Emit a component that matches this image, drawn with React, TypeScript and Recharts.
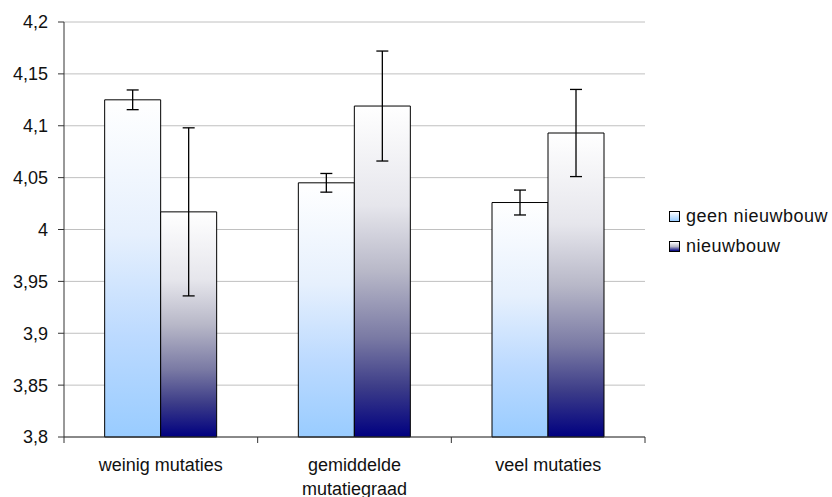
import React from 'react';
import { BarChart, Bar, XAxis, YAxis, CartesianGrid, ErrorBar, Text } from 'recharts';

const categories = ['weinig mutaties', 'gemiddelde mutatiegraad', 'veel mutaties'];
const seriesNames = ['geen nieuwbouw', 'nieuwbouw'];
const geenNieuwbouw = [4.125, 4.045, 4.026];
const geenNieuwbouwErr = [0.0095, 0.009, 0.012];
const nieuwbouw = [4.017, 4.119, 4.093];
const nieuwbouwErr = [0.081, 0.053, 0.042];
const yTicks = [3.8, 3.85, 3.9, 3.95, 4, 4.05, 4.1, 4.15, 4.2];

const W = 832;
const H = 497;
const MARGIN = { top: 22, right: 187, bottom: 0, left: 0 };
const Y_AXIS_W = 64;
const BAND = (W - MARGIN.right - MARGIN.left - Y_AXIS_W) / categories.length;
const FONT = 'Arial, "Liberation Sans", sans-serif';

const data = categories.map((name, i) => ({
    name,
    geen: geenNieuwbouw[i],
    geenErr: geenNieuwbouwErr[i],
    nieuw: nieuwbouw[i],
    nieuwErr: nieuwbouwErr[i],
}));

const fmt = (v: number) => String(v).replace('.', ',');

// category label + Excel-style tick marks between the categories
const CategoryTick = (props: any) => {
    const { x, y, payload, index } = props;
    const half = BAND / 2;
    return (
        <g>
            <line x1={x - half} y1={y} x2={x - half} y2={y + 6} stroke="#333" />
            {index === categories.length - 1 && (
                <line x1={x + half} y1={y} x2={x + half} y2={y + 6} stroke="#333" />
            )}
            <Text
                x={x}
                y={y + 21}
                width={170}
                textAnchor="middle"
                verticalAnchor="start"
                lineHeight={24}
                fill="#111"
                fontSize={18}
                fontFamily={FONT}
                style={{ fontSize: 18, fontFamily: FONT }}
            >
                {payload.value}
            </Text>
        </g>
    );
};

const legendSwatches = [
    'linear-gradient(#ffffff, #99ccff)',
    'linear-gradient(#ffffff, #b8b8c8, #000080)',
];

export default function App() {
    return (
        <div style={{ position: 'absolute', left: 0, top: 0, width: W, height: H, background: '#fff' }}>
            <BarChart
                width={W}
                height={H}
                data={data}
                margin={MARGIN}
                barCategoryGap="21%"
                barGap={0}
            >
                <defs>
                    <linearGradient id="gradGeen" x1="0" y1="0" x2="0" y2="1">
                        <stop offset="0%" stopColor="#ffffff" />
                        <stop offset="40%" stopColor="#e6f0fd" />
                        <stop offset="70%" stopColor="#bcdaff" />
                        <stop offset="100%" stopColor="#99ccff" />
                    </linearGradient>
                    <linearGradient id="gradNieuw" x1="0" y1="0" x2="0" y2="1">
                        <stop offset="0%" stopColor="#ffffff" />
                        <stop offset="30%" stopColor="#e6e6ec" />
                        <stop offset="50%" stopColor="#b8b8c8" />
                        <stop offset="70%" stopColor="#7a7aa4" />
                        <stop offset="85%" stopColor="#3c3c88" />
                        <stop offset="100%" stopColor="#000080" />
                    </linearGradient>
                </defs>
                <CartesianGrid vertical={false} stroke="#c0c0c0" />
                <XAxis
                    dataKey="name"
                    height={60}
                    axisLine={{ stroke: '#333' }}
                    tickLine={false}
                    tickSize={0}
                    tickMargin={0}
                    interval={0}
                    tick={<CategoryTick />}
                />
                <YAxis
                    width={Y_AXIS_W}
                    domain={[3.8, 4.2]}
                    ticks={yTicks}
                    interval={0}
                    tickFormatter={fmt}
                    axisLine={{ stroke: '#333' }}
                    tickLine={{ stroke: '#333' }}
                    tickSize={6}
                    tickMargin={10}
                    tick={{ fill: '#111', fontSize: 18, fontFamily: FONT }}
                />
                <Bar dataKey="geen" name={seriesNames[0]} fill="url(#gradGeen)" stroke="#000" strokeWidth={1} isAnimationActive={false}>
                    <ErrorBar dataKey="geenErr" direction="y" width={6} stroke="#000" strokeWidth={1.3} isAnimationActive={false} />
                </Bar>
                <Bar dataKey="nieuw" name={seriesNames[1]} fill="url(#gradNieuw)" stroke="#000" strokeWidth={1} isAnimationActive={false}>
                    <ErrorBar dataKey="nieuwErr" direction="y" width={6} stroke="#000" strokeWidth={1.3} isAnimationActive={false} />
                </Bar>
            </BarChart>

            {/* Legend */}
            <div style={{ position: 'absolute', left: 669, top: 201, fontFamily: FONT, fontSize: 18, color: '#111', letterSpacing: 0.5 }}>
                {seriesNames.map((s, i) => (
                    <div key={s} style={{ display: 'flex', alignItems: 'center', height: 30, whiteSpace: 'nowrap' }}>
                        <div style={{ width: 11, height: 11, border: '1px solid #000', background: legendSwatches[i], marginRight: 6, boxSizing: 'border-box' }} />
                        <span>{s}</span>
                    </div>
                ))}
            </div>
        </div>
    );
}
